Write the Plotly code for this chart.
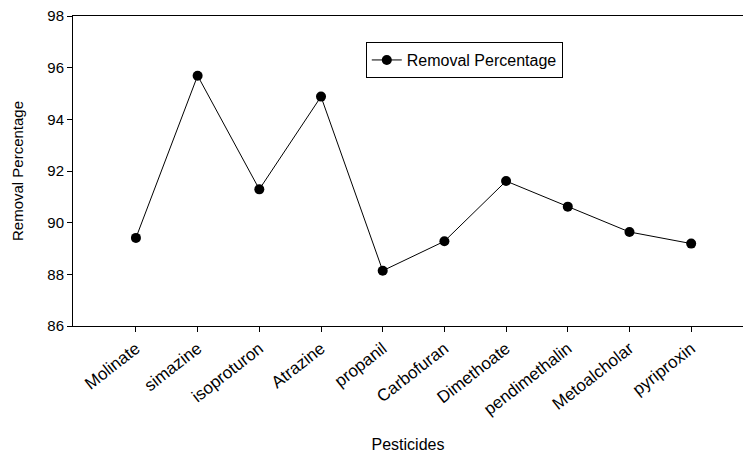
import plotly.graph_objects as go

pesticides = ["Molinate", "simazine", "isoproturon", "Atrazine", "propanil",
              "Carbofuran", "Dimethoate", "pendimethalin", "Metoalcholar", "pyriproxin"]
removal_percentage = [89.41, 95.69, 91.29, 94.88, 88.14, 89.28, 91.61, 90.62, 89.64, 89.19]
y_ticks = [86, 88, 90, 92, 94, 96, 98]

FONT = "Liberation Sans, Arial, sans-serif"

fig = go.Figure()
fig.add_trace(go.Scatter(
    x=pesticides, y=removal_percentage, mode="lines+markers",
    name="Removal Percentage",
    line=dict(color="black", width=1),
    marker=dict(color="black", size=10, symbol="circle"),
))

fig.update_layout(
    width=743, height=453,
    margin=dict(l=73, r=0, t=16, b=127, autoexpand=False),
    paper_bgcolor="white", plot_bgcolor="white",
    font=dict(family=FONT, size=15, color="black"),
    showlegend=True,
    legend=dict(
        x=0.437, y=0.916, xanchor="left", yanchor="top",
        bordercolor="black", borderwidth=1, bgcolor="white",
        font=dict(family=FONT, size=16, color="black"),
    ),
    xaxis=dict(
        type="category",
        categoryorder="array", categoryarray=pesticides,
        range=[-1.02, 9.84],
        automargin=False,
        showline=True, linecolor="black", linewidth=1, mirror=True,
        ticks="outside", ticklen=5, tickcolor="black",
        tickangle=-38,
        tickfont=dict(family=FONT, size=17, color="black"),
        showgrid=False, zeroline=False,
        title=dict(text="Pesticides", font=dict(family=FONT, size=16, color="black"), standoff=27),
    ),
    yaxis=dict(
        range=[86, 98],
        tickvals=y_ticks,
        automargin=False,
        showline=True, linecolor="black", linewidth=1,
        ticks="outside", ticklen=5, tickcolor="black",
        tickfont=dict(family=FONT, size=15, color="black"),
        showgrid=False, zeroline=False,
        title=dict(text="Removal Percentage", font=dict(family=FONT, size=15, color="black"), standoff=20),
    ),
)

fig.write_html("out.html", config={"displayModeBar": False},
               post_script="document.body.style.margin='0px';")
